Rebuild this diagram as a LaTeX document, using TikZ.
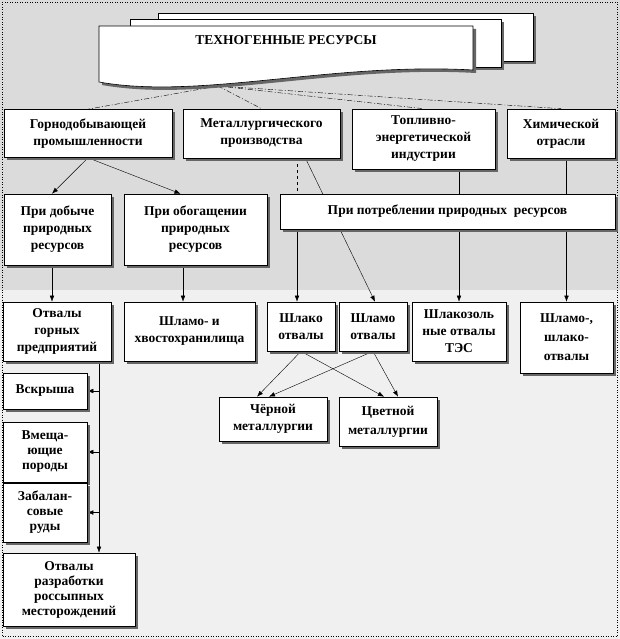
\documentclass[tikz,border=0pt]{standalone}
\usepackage{fontspec}
\setmainfont{Liberation Serif}
\usetikzlibrary{arrows.meta,shadows}
\pgfdeclarelayer{canvas}
\pgfdeclarelayer{links}
\pgfsetlayers{canvas,links,main}
\tikzset{
  shd/.style={drop shadow={shadow xshift=3pt,shadow yshift=-3pt,fill=black!60,opacity=1}},
  blk/.style={draw,fill=white,align=center,inner sep=0pt,shd,
    font=\bfseries\fontsize{13.5}{17}\selectfont},
  sz/.style 2 args={minimum width=#1pt,minimum height=#2pt},
  fan/.style={dash pattern=on 5pt off 2pt on 1pt off 2pt},
  >={Latex[length=6pt,width=4.5pt]}
}
\begin{document}
\begin{tikzpicture}[x=1pt,y=-1pt,line width=0.6pt]
  \useasboundingbox (0,0) rectangle (620,639);

  % title sheets
  \draw[fill=white,shd] (158,13) rectangle (533,61);
  \draw[fill=white,shd] (130,19) rectangle (501,67);
  \draw[fill=white,shd] (99,26) -- (473,26) -- (473,70)
    .. controls (330,62) and (200,100) .. (99,82) -- cycle;
  \node[font=\bfseries\fontsize{13.5}{16}\selectfont] (ttl) at (286,40) {ТЕХНОГЕННЫЕ РЕСУРСЫ};
  \coordinate (src) at (218,86);

  % branches
  \node[blk,sz={168}{48}] (gorn) at (88,133.5) {Горнодобывающей\\промышленности};
  \node[blk,sz={157}{49}] (met) at (261.5,133.5) {Металлургического\\производства};
  \node[blk,sz={143}{60}] (top) at (423.5,139) {Топливно-\\энергетической\\индустрии};
  \node[blk,sz={108}{49}] (him) at (561,133.5) {Химической\\отрасли};

  % stages
  \node[blk,sz={107}{71}] (dob) at (57.5,229.5) {При добыче\\природных\\ресурсов};
  \node[blk,sz={143}{71}] (obog) at (195.5,229.5) {При обогащении\\природных\\ресурсов};
  \node[blk,sz={335}{35}] (potr) at (447.5,211.5) {При потреблении природных\ \ ресурсов};

  % wastes
  \node[blk,sz={108}{59}] (og) at (57,331.5) {Отвалы\\горных\\предприятий};
  \node[blk,sz={131}{59}] (shx) at (189.5,331.5) {Шламо- и\\хвостохранилища};
  \node[blk,sz={68}{49}] (shl1) at (301,326.5) {Шлако\\отвалы};
  \node[blk,sz={68}{49}] (shl2) at (373,326.5) {Шламо\\отвалы};
  \node[blk,sz={94}{59}] (shz) at (459,331.5) {Шлакозоль\\ные отвалы\\ТЭС};
  \node[blk,sz={93}{71},font=\bfseries\fontsize{13.5}{19}\selectfont] (shm) at (566.5,337.5) {Шламо-,\\шлако-\\отвалы};

  \node[blk,sz={108}{44}] (cher) at (273,419) {Чёрной\\металлургии};
  \node[blk,sz={98}{49},font=\bfseries\fontsize{13.5}{19}\selectfont] (cvet) at (388,421.5) {Цветной\\металлургии};

  \node[blk,sz={84}{36}] (vsk) at (45,391) {Вскрыша};
  \node[blk,sz={84}{60},font=\bfseries\fontsize{13.5}{15}\selectfont] (vm) at (45,452) {Вмеща-\\ющие\\породы};
  \node[blk,sz={84}{59},font=\bfseries\fontsize{13.5}{15}\selectfont] (zab) at (45,512.5) {Забалан-\\совые\\руды};
  \node[blk,sz={132}{73},font=\bfseries\fontsize{13.5}{15}\selectfont] (orm) at (69,589.5) {Отвалы\\разработки\\россыпных\\месторождений};

  \coordinate (c1) at (52,0);
  \coordinate (c2) at (183,0);
  \coordinate (c3) at (297,0);
  \coordinate (sp) at (99,0);

  \begin{pgfonlayer}{canvas}
    \fill[black!14] (0,0) rectangle (620,290);
    \fill[black!6] (0,290) rectangle (620,639);
    \draw[dotted,line width=0.5pt] (2,2) rectangle (617,636);
  \end{pgfonlayer}

  \begin{pgfonlayer}{links}
    \draw[fan] (src) -- (gorn.north);
    \draw[fan] (src) -- (met.north);
    \draw[fan] (src) -- (top.north);
    \draw[fan] (src) -- (him.north);

    \draw[->] (gorn.south) -- (dob.north -| c1);
    \draw[->] (gorn.south) -- ([xshift=-15pt]obog.north);
    \draw[->] (dob.south -| c1) -- (og.north -| c1);
    \draw[->] (obog.south -| c2) -- (shx.north -| c2);

    \draw[dashed] (met.south -| c3) -- (potr.north -| c3);
    \draw[->] (potr.south -| c3) -- (shl1.north -| c3);
    \draw[->] ([xshift=44pt]met.south) -- ([xshift=2pt]shl2.north);
    \draw[->] (top.south -| shz.north) -- (shz.north);
    \draw[->] (him.south -| shm.north) -- (shm.north);

    \draw[->] (shl1.south) -- ([xshift=-16pt]cher.north);
    \draw[->] (shl1.south) -- ([xshift=-4pt]cvet.north);
    \draw[->] (shl2.south) -- ([xshift=-4pt]cher.north);
    \draw[->] (shl2.south) -- ([xshift=10pt]cvet.north);

    \draw[->] (og.south -| sp) -- (orm.north -| sp);
    \draw[->] (vsk.east -| sp) -- (vsk.east);
    \draw[->] (vm.east -| sp) -- (vm.east);
    \draw[->] (zab.east -| sp) -- (zab.east);
  \end{pgfonlayer}
\end{tikzpicture}
\end{document}
